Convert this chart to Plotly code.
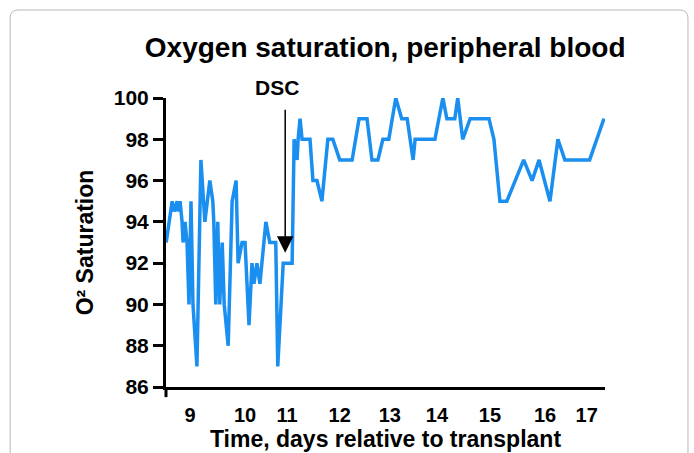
import plotly.graph_objects as go

# Time (days relative to transplant) and O2 saturation readings
days = [8.52, 8.64, 8.68, 8.74, 8.76, 8.80, 8.84, 8.86, 8.90, 8.94, 8.98, 9.02, 9.06, 9.14,
        9.22, 9.30, 9.40, 9.46, 9.48, 9.52, 9.56, 9.60, 9.65, 9.69, 9.77, 9.85, 9.93, 9.97,
        10.05, 10.11, 10.19, 10.25, 10.29, 10.35, 10.41, 10.45, 10.53, 10.61, 10.73, 10.77,
        10.88, 11.06, 11.10, 11.16, 11.18, 11.22, 11.26, 11.32, 11.42, 11.48, 11.56, 11.66,
        11.78, 11.88, 12.02, 12.27, 12.41, 12.57, 12.67, 12.79, 12.89, 13.01, 13.15, 13.27,
        13.38, 13.50, 13.54, 13.94, 14.10, 14.18, 14.34, 14.40, 14.50, 14.65, 15.03, 15.13,
        15.25, 15.39, 15.73, 15.90, 16.04, 16.26, 16.42, 16.56, 17.06, 17.35]
sat = [93, 95, 94.5, 95, 94.5, 95, 94, 93, 94, 93, 90, 95, 90, 87,
       97, 94, 96, 95, 94, 90, 94, 90, 93, 90, 88, 95, 96, 92,
       93, 93, 89, 92, 91, 92, 91, 92, 94, 93, 93, 87,
       92, 92, 98, 97, 98, 99, 98, 98, 98, 96, 96, 95,
       98, 98, 97, 97, 99, 99, 97, 97, 98, 98, 100, 99,
       99, 97, 98, 98, 100, 99, 99, 100, 98, 99, 99, 98,
       95, 95, 97, 96, 97, 95, 98, 97, 97, 99]

tick_pos = [9.0, 10.11, 10.96, 12.02, 13.03, 13.98, 15.05, 16.16, 17.0]
tick_text = ["9", "10", "11", "12", "13", "14", "15", "16", "17"]
y_ticks = [86, 88, 90, 92, 94, 96, 98, 100]

dsc_day = 10.92
dsc_tip = 92.5
dsc_start = 99.5

FONT = "Liberation Sans, Arial, sans-serif"

fig = go.Figure()
fig.add_trace(go.Scatter(x=days, y=sat, mode="lines",
                         line=dict(color="#1b8ff0", width=3.5),
                         cliponaxis=False, showlegend=False))

fig.add_annotation(x=dsc_day, y=dsc_tip, ax=dsc_day, ay=dsc_start,
                   xref="x", yref="y", axref="x", ayref="y",
                   showarrow=True, arrowhead=2, arrowsize=2.2, arrowwidth=1.5,
                   arrowcolor="black", text="")
fig.add_annotation(x=10.76, y=1.035, xref="x", yref="paper", text="<b>DSC</b>",
                   showarrow=False, yanchor="middle",
                   font=dict(family=FONT, size=21, color="black"))

# rounded frame around the figure
l, r = -0.355, 1.189
b, t = -0.26, 1.3045
rx, ry = 0.0182, 0.0277
path = (f"M {l+rx},{t} L {r-rx},{t} Q {r},{t} {r},{t-ry} L {r},{b} "
        f"M {l},{b} L {l},{t-ry} Q {l},{t} {l+rx},{t}")
fig.add_shape(type="path", path=path, xref="paper", yref="paper",
              line=dict(color="#b8b8b8", width=1))
# y-axis overshoot below x axis
fig.add_shape(type="line", xref="x domain", yref="y domain", x0=0, x1=0, y0=0, y1=-0.035,
              line=dict(color="black", width=3))

fig.update_layout(
    width=694, height=453,
    margin=dict(l=166, r=89, t=98, b=66),
    paper_bgcolor="white", plot_bgcolor="white",
    title=dict(text="<b>Oxygen saturation, peripheral blood</b>", x=0.555, xanchor="center",
               y=0.895, yanchor="middle", font=dict(family=FONT, size=28, color="black")),
    font=dict(family=FONT, color="black"),
    xaxis=dict(range=[8.516, 17.37], tickmode="array", tickvals=tick_pos, ticktext=tick_text,
               showline=True, linecolor="black", linewidth=3, showgrid=False, zeroline=False,
               ticks="outside", ticklen=8, tickcolor="rgba(0,0,0,0)", automargin=False,
               tickfont=dict(family=FONT, size=20, color="black", weight="bold"),
               title=dict(text="<b>Time, days relative to transplant</b>", standoff=2,
                          font=dict(family=FONT, size=23, color="black"))),
    yaxis=dict(range=[86, 100], tickmode="array", tickvals=y_ticks,
               showline=True, linecolor="black", linewidth=3, showgrid=False, zeroline=False,
               ticks="outside", ticklen=10, tickwidth=3, tickcolor="black", automargin=False,
               tickfont=dict(family=FONT, size=21, color="black", weight="bold"),
               title=dict(text="<b>O² Saturation</b>", standoff=14,
                          font=dict(family=FONT, size=23, color="black"))),
)

fig.write_html("out.html", config={"displayModeBar": False},
               post_script="document.body.style.margin='0';")
